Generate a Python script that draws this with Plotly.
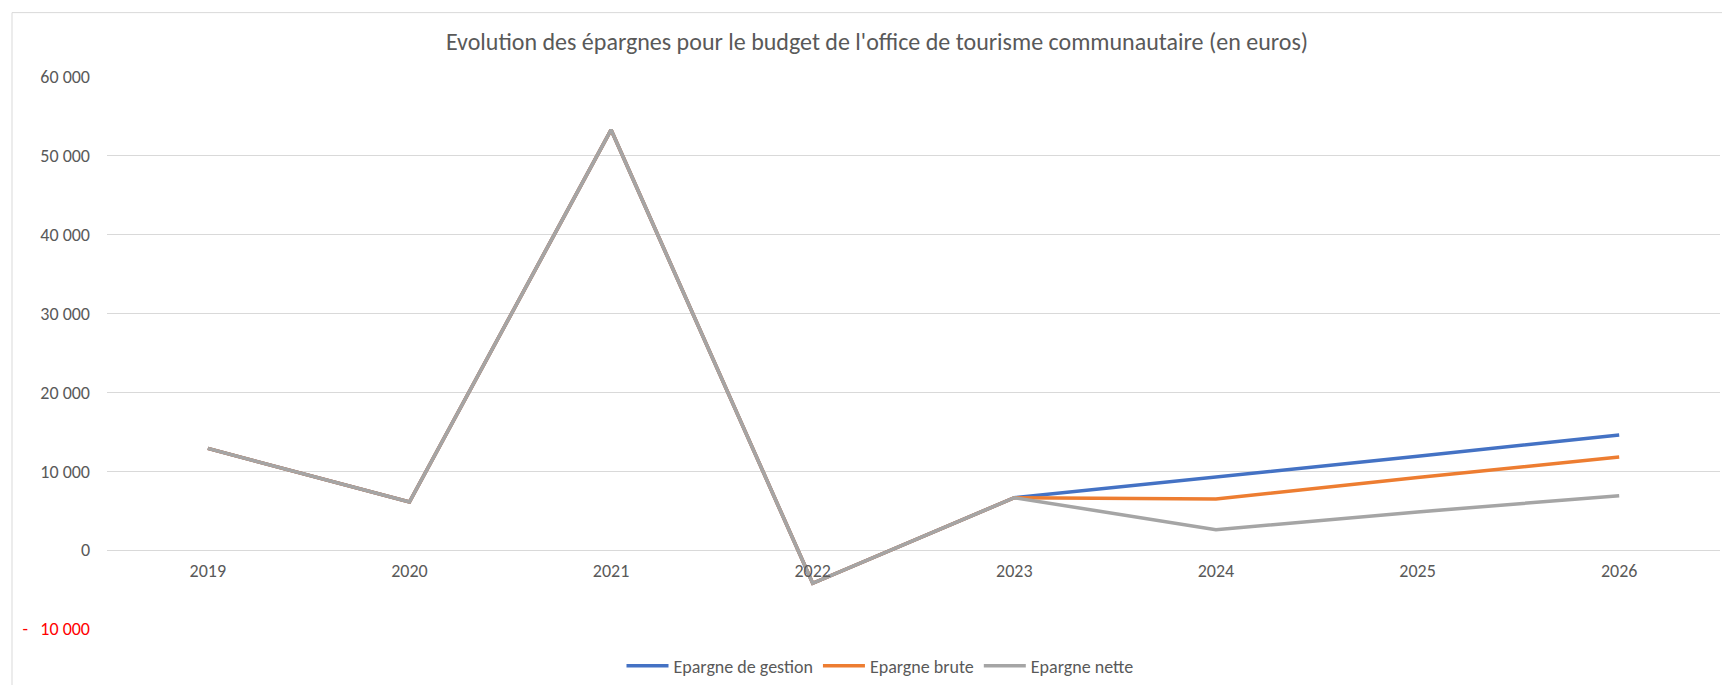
import plotly.graph_objects as go

# Years and savings series (euros)
years = ["2019", "2020", "2021", "2022", "2023", "2024", "2025", "2026"]
epargne_gestion = [12900, 6100, 53300, -4200, 6650, 9250, 11900, 14600]
epargne_brute = [12900, 6100, 53300, -4200, 6650, 6500, 9200, 11800]
epargne_nette = [12900, 6100, 53300, -4200, 6650, 2600, 4850, 6900]

y_tickvals = [-10000, 0, 10000, 20000, 30000, 40000, 50000, 60000]
y_ticktext = ['<span style="color:#FF0000">-\u00a0\u00a0\u00a010\u00a0000</span>',
              "0", "10\u00a0000", "20\u00a0000", "30\u00a0000",
              "40\u00a0000", "50\u00a0000", "60\u00a0000"]

title_text = "Evolution des épargnes pour le budget de l'office de tourisme communautaire (en euros)"

FONT = "Calibri, Carlito, Lato, sans-serif"
TEXT_COLOR = "#595959"
GRID_COLOR = "#D9D9D9"

W, H = 1722, 685
ML, MR, MT, MB = 107, 2, 77, 55
PW, PH = W - ML - MR, H - MT - MB
Y_MIN, Y_MAX = -10000, 60000


def px_x(x):
    return (x - ML) / PW


def px_y(y):
    return (H - MB - y) / PH


series = [
    ("Epargne de gestion", epargne_gestion, "#4472C4"),
    ("Epargne brute", epargne_brute, "#ED7D31"),
    ("Epargne nette", epargne_nette, "#A5A5A5"),
]

fig = go.Figure()
for name, vals, color in series:
    fig.add_trace(go.Scatter(
        x=years, y=vals, name=name, mode="lines",
        line=dict(color=color, width=3.5),
        hoverinfo="x+y+name",
    ))

fig.update_layout(
    width=W, height=H,
    margin=dict(l=ML, r=MR, t=MT, b=MB),
    paper_bgcolor="white", plot_bgcolor="white",
    font=dict(family=FONT, size=18, color=TEXT_COLOR),
    title=dict(
        text=title_text,
        x=877 / W, xanchor="center",
        y=1 - 42 / H, yanchor="middle",
        font=dict(family=FONT, size=24, color=TEXT_COLOR),
    ),
    showlegend=True,
    legend=dict(
        orientation="h",
        x=px_x(880), xanchor="center",
        y=px_y(666), yanchor="middle",
        font=dict(family=FONT, size=18, color=TEXT_COLOR),
        bgcolor="rgba(0,0,0,0)",
        itemwidth=42,
    ),
    xaxis=dict(
        type="category",
        range=[-0.5, len(years) - 0.5],
        showgrid=False, zeroline=False, showline=False,
        ticks="", anchor="free",
        position=(0 - Y_MIN) / (Y_MAX - Y_MIN),
        ticklabelstandoff=8,
        tickfont=dict(family=FONT, size=18, color=TEXT_COLOR),
    ),
    yaxis=dict(
        range=[Y_MIN, Y_MAX],
        tickvals=y_tickvals, ticktext=y_ticktext,
        showgrid=True, gridcolor=GRID_COLOR, gridwidth=1,
        zeroline=False, showline=False, ticks="",
        ticklabelstandoff=16,
        tickfont=dict(family=FONT, size=18, color=TEXT_COLOR),
    ),
    shapes=[dict(
        type="rect", xref="paper", yref="paper",
        x0=px_x(12), x1=px_x(W + 20),
        y0=px_y(H + 20), y1=px_y(12.5),
        line=dict(color=GRID_COLOR, width=1),
        fillcolor="rgba(0,0,0,0)", layer="below",
    )],
)

fig.write_html("out.html")
